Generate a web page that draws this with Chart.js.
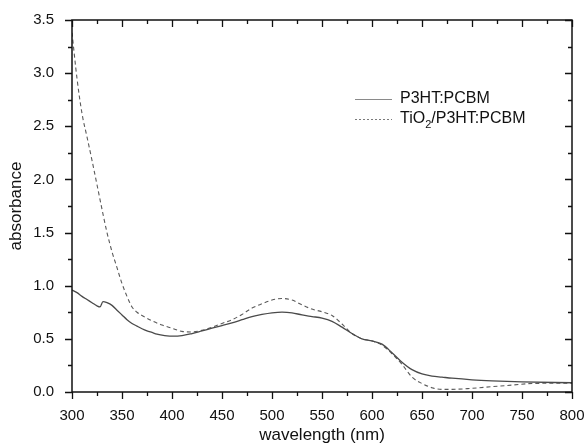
<!DOCTYPE html>
<html>
<head>
<meta charset="utf-8">
<script src="https://cdn.jsdelivr.net/npm/chart.js@4/dist/chart.umd.min.js"></script>
<style>
  html, body { margin: 0; padding: 0; background: #fff; }
  #wrap { width: 588px; height: 444px; position: relative; }
</style>
</head>
<body>
<div id="wrap"><canvas id="c" width="588" height="444"></canvas></div>
<script>
// ---- data ----
const seriesNames = ["P3HT:PCBM", "TiO2/P3HT:PCBM"];

const p3htX = [300,305,310,315,320,325,328,331,335,340,345,350,355,360,365,370,375,380,385,390,395,400,410,420,430,440,450,460,470,480,490,500,510,520,530,540,550,560,570,580,590,600,610,620,630,640,650,660,670,680,700,720,750,800];
const p3htY = [0.96,0.935,0.90,0.87,0.84,0.81,0.80,0.85,0.84,0.815,0.77,0.725,0.68,0.645,0.62,0.595,0.575,0.56,0.545,0.535,0.528,0.525,0.53,0.55,0.575,0.60,0.625,0.65,0.68,0.71,0.73,0.745,0.752,0.745,0.725,0.71,0.695,0.665,0.61,0.55,0.50,0.48,0.45,0.37,0.28,0.21,0.17,0.15,0.14,0.13,0.115,0.105,0.095,0.087];

const tioX = [300,305,310,315,320,325,330,335,340,345,350,355,360,365,370,380,390,400,410,420,430,440,450,460,470,480,490,500,510,520,530,540,550,560,570,580,590,600,610,620,630,640,650,660,670,680,700,720,740,760,800];
const tioY = [3.38,2.95,2.62,2.40,2.18,1.95,1.72,1.50,1.32,1.17,1.02,0.90,0.80,0.75,0.72,0.67,0.63,0.60,0.57,0.565,0.58,0.61,0.645,0.68,0.73,0.79,0.83,0.865,0.88,0.865,0.82,0.78,0.755,0.72,0.64,0.55,0.50,0.48,0.44,0.36,0.26,0.14,0.08,0.04,0.025,0.025,0.035,0.05,0.065,0.08,0.083];

const xTicks = [300,350,400,450,500,550,600,650,700,750,800];
const yTicks = [0.0,0.5,1.0,1.5,2.0,2.5,3.0,3.5];
const xLabel = "wavelength (nm)";
const yLabel = "absorbance";

// ---- styling ----
const FONT = "'Liberation Sans', Arial, sans-serif";
const solidColor = "#4a4a4a";
const dashColor = "#5a5a5a";

const toPts = (xs, ys) => xs.map((x, i) => ({ x: x, y: ys[i] }));

// frame + ticks (major & minor) drawn from the library's scales
const framePlugin = {
  id: 'frame',
  afterDraw(chart) {
    const ctx = chart.ctx;
    const a = chart.chartArea;
    const xs = chart.scales.x, ys = chart.scales.y;
    ctx.save();
    ctx.strokeStyle = "#111";
    ctx.lineWidth = 1.5;
    ctx.strokeRect(a.left, a.top, a.right - a.left, a.bottom - a.top);
    ctx.lineWidth = 1.3;
    const major = 7, minor = 4;
    const xStep = xTicks[1] - xTicks[0];
    for (let i = 0; i < xTicks.length; i++) {
      const vals = [[xTicks[i], major]];
      if (i < xTicks.length - 1) vals.push([xTicks[i] + xStep / 2, minor]);
      for (const [v, len] of vals) {
        const px = Math.round(xs.getPixelForValue(v)) + 0.5;
        ctx.beginPath();
        ctx.moveTo(px, a.bottom); ctx.lineTo(px, a.bottom + len);
        ctx.moveTo(px, a.top); ctx.lineTo(px, a.top + len);
        ctx.stroke();
      }
    }
    const yStep = yTicks[1] - yTicks[0];
    for (let i = 0; i < yTicks.length; i++) {
      const vals = [[yTicks[i], major]];
      if (i < yTicks.length - 1) vals.push([yTicks[i] + yStep / 2, minor]);
      for (const [v, len] of vals) {
        const py = Math.round(ys.getPixelForValue(v)) + 0.5;
        ctx.beginPath();
        ctx.moveTo(a.left, py); ctx.lineTo(a.left - len, py);
        ctx.moveTo(a.right, py); ctx.lineTo(a.right - len, py);
        ctx.stroke();
      }
    }
    // legend
    ctx.textBaseline = 'middle';
    ctx.fillStyle = "#111";
    const lx0 = 355, lx1 = 392, tx = 400;
    const r1 = 99, r2 = 119;
    ctx.lineWidth = 1.2;
    ctx.strokeStyle = "#8a8a8a";
    ctx.setLineDash([]);
    ctx.beginPath(); ctx.moveTo(lx0, r1 + 0.5); ctx.lineTo(lx1, r1 + 0.5); ctx.stroke();
    ctx.strokeStyle = "#7a7a7a";
    ctx.setLineDash([2, 2]);
    ctx.beginPath(); ctx.moveTo(lx0, r2 + 0.5); ctx.lineTo(lx1, r2 + 0.5); ctx.stroke();
    ctx.setLineDash([]);
    ctx.font = "16px " + FONT;
    ctx.fillText(seriesNames[0], tx, r1);
    let x = tx;
    ctx.fillText("TiO", x, r2);
    x += ctx.measureText("TiO").width;
    ctx.font = "11px " + FONT;
    ctx.fillText("2", x, r2 + 6);
    x += ctx.measureText("2").width;
    ctx.font = "16px " + FONT;
    ctx.fillText("/P3HT:PCBM", x, r2);
    ctx.restore();
  }
};

// invisible tick marks used only to space the labels from the axes
const spacerGrid = (len) => ({
  display: true, drawOnChartArea: false, drawTicks: true,
  tickLength: len, tickColor: 'rgba(0,0,0,0)', color: 'rgba(0,0,0,0)'
});

new Chart(document.getElementById('c'), {
  type: 'line',
  data: {
    datasets: [
      {
        label: seriesNames[0],
        data: toPts(p3htX, p3htY),
        borderColor: solidColor,
        borderWidth: 1.3,
        pointRadius: 0,
        fill: false,
        cubicInterpolationMode: 'monotone'
      },
      {
        label: seriesNames[1],
        data: toPts(tioX, tioY),
        borderColor: dashColor,
        borderWidth: 1.1,
        borderDash: [4, 3],
        pointRadius: 0,
        fill: false,
        cubicInterpolationMode: 'monotone'
      }
    ]
  },
  options: {
    responsive: false,
    animation: false,
    layout: { padding: { top: 20, right: 16, left: 0, bottom: 0 } },
    plugins: { legend: { display: false }, tooltip: { enabled: false } },
    scales: {
      x: {
        type: 'linear',
        min: 300, max: 800,
        grid: spacerGrid(15),
        border: { display: false },
        afterBuildTicks: (s) => { s.ticks = xTicks.map(v => ({ value: v })); },
        afterFit: (s) => { s.height = 52; },
        ticks: {
          padding: 0,
          color: "#111",
          font: { family: FONT, size: 15 },
          maxRotation: 0,
          callback: (v) => String(v)
        },
        title: {
          display: true, text: xLabel, color: "#111",
          font: { family: FONT, size: 17, lineHeight: 1 },
          padding: { top: 0, bottom: 0 }
        }
      },
      y: {
        min: 0, max: 3.5,
        grid: spacerGrid(18),
        border: { display: false },
        afterBuildTicks: (s) => { s.ticks = yTicks.map(v => ({ value: v })); },
        afterFit: (s) => { s.width = 72; },
        ticks: {
          padding: 0,
          color: "#111",
          font: { family: FONT, size: 15 },
          callback: (v) => Number(v).toFixed(1)
        },
        title: {
          display: true, text: yLabel, color: "#111",
          font: { family: FONT, size: 17, lineHeight: 1 },
          padding: { top: 8, bottom: 0 }
        }
      }
    }
  },
  plugins: [framePlugin]
});
</script>
</body>
</html>
